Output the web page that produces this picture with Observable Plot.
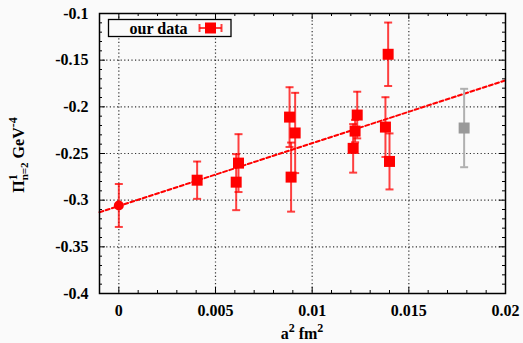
<!DOCTYPE html>
<html><head><meta charset="utf-8">
<script src="https://cdn.jsdelivr.net/npm/d3@7"></script>
<script src="https://cdn.jsdelivr.net/npm/@observablehq/plot@0.6"></script>
<style>body{margin:0;background:#fafafa;}</style>
</head><body><div id="chart"></div>
<script>
// Data
const a2   = [0.00405, 0.00607, 0.00619, 0.00883, 0.00891, 0.00912, 0.01212, 0.01222, 0.01233, 0.01379, 0.01393, 0.01400];
const piv  = [-0.2786, -0.2807, -0.2603, -0.2110, -0.2753, -0.2280, -0.2445, -0.2260, -0.2088, -0.2217, -0.1437, -0.2585];
const errs = [0.020, 0.030, 0.031, 0.032, 0.037, 0.043, 0.026, 0.012, 0.025, 0.032, 0.034, 0.030];
const contA2 = [0], contPi = [-0.3057], contErr = [0.023];
const grayA2 = [0.01786], grayPi = [-0.2227], grayErr = [0.042];
const fitA2 = [-0.001, 0.02], fitPi = [-0.313, -0.1716];
const xTicks = [0, 0.005, 0.01, 0.015, 0.02];
const yTicks = [-0.4, -0.35, -0.3, -0.25, -0.2, -0.15, -0.1];

const pts = a2.map((x, i) => ({x, y: piv[i], e: errs[i]}));
const cont = contA2.map((x, i) => ({x, y: contPi[i], e: contErr[i]}));
const gray = grayA2.map((x, i) => ({x, y: grayPi[i], e: grayErr[i]}));
const fit = fitA2.map((x, i) => ({x, y: fitPi[i]}));

const xMinor = d3.range(-1, 21).map(k => k / 1000).filter(v => !xTicks.some(t => Math.abs(t - v) < 1e-9));
const yMinor = d3.range(-40, -9).map(k => k / 100).filter(v => !yTicks.some(t => Math.abs(t - v) < 1e-9));
const xGrid = [0, 0.005, 0.01, 0.015];
const yGrid = [-0.35, -0.3, -0.25, -0.2, -0.15];

const capSym = {draw(ctx, size) { const r = Math.sqrt(size / Math.PI); ctx.moveTo(-r, 0); ctx.lineTo(r, 0); }};
const W = 523, H = 343, mL = 99, mR = 18, mT = 13, mB = 50;
const iw = W - mL - mR, ih = H - mT - mB;

function errMarks(data, color, op) {
  return [
    Plot.ruleX(data, {x: "x", y1: d => d.y - d.e, y2: d => d.y + d.e, stroke: color, strokeWidth: 2, strokeOpacity: op}),
    Plot.dot(data, {x: "x", y: d => d.y - d.e, symbol: capSym, r: 4, stroke: color, strokeWidth: 2, strokeOpacity: op}),
    Plot.dot(data, {x: "x", y: d => d.y + d.e, symbol: capSym, r: 4, stroke: color, strokeWidth: 2, strokeOpacity: op})
  ];
}

const tickStyle = {stroke: "black", strokeWidth: 1};
const svg = Plot.plot({
  width: W, height: H, marginLeft: mL, marginRight: mR, marginTop: mT, marginBottom: mB,
  style: {background: "#fafafa", fontFamily: "Liberation Serif", fontWeight: "bold", fontSize: "16px", color: "black"},
  x: {domain: [-0.001, 0.02]},
  y: {domain: [-0.4, -0.1]},
  marks: [
    Plot.ruleX(xGrid, {x: d => d, stroke: "#333", strokeDasharray: "1.2,2.4", strokeWidth: 1.2}),
    Plot.ruleY(yGrid, {y: d => d, stroke: "#333", strokeDasharray: "1.2,2.4", strokeWidth: 1.2}),
    Plot.tickX(xTicks, {x: d => d, insetTop: ih - 6, ...tickStyle}),
    Plot.tickX(xTicks, {x: d => d, insetBottom: ih - 6, ...tickStyle}),
    Plot.tickX(xMinor, {x: d => d, insetTop: ih - 3, ...tickStyle}),
    Plot.tickX(xMinor, {x: d => d, insetBottom: ih - 3, ...tickStyle}),
    Plot.tickY(yTicks, {y: d => d, insetRight: iw - 6, ...tickStyle}),
    Plot.tickY(yTicks, {y: d => d, insetLeft: iw - 6, ...tickStyle}),
    Plot.tickY(yMinor, {y: d => d, insetRight: iw - 3, ...tickStyle}),
    Plot.tickY(yMinor, {y: d => d, insetLeft: iw - 3, ...tickStyle}),
    Plot.line(fit, {x: "x", y: "y", stroke: "#ff0000", strokeWidth: 2, strokeDasharray: "4,2.5"}),
    ...errMarks(gray, "#b0b0b0", 1),
    ...errMarks(cont, "#ff0000", 0.75),
    ...errMarks(pts, "#ff0000", 0.75),
    Plot.dot(gray, {x: "x", y: "y", symbol: "square", r: 6.2, fill: "#999999"}),
    Plot.dot(cont, {x: "x", y: "y", symbol: "circle", r: 5, fill: "#ff0000"}),
    Plot.dot(pts, {x: "x", y: "y", symbol: "square", r: 6.2, fill: "#ff0000"}),
    Plot.frame({stroke: "black", strokeWidth: 1.5}),
    Plot.axisX(xTicks, {tickSize: 0, tickPadding: 11, tickFormat: d => String(d), label: null, fontSize: 16, fontWeight: "bold"}),
    Plot.axisY(yTicks, {tickSize: 0, tickPadding: 11, tickFormat: d => String(d), label: null, fontSize: 16, fontWeight: "bold"})
  ]
});
document.getElementById("chart").append(svg);

const s = d3.select(svg);
const font = "Liberation Serif";
// Legend
const lg = s.append("g");
lg.append("rect").attr("x", 108.5).attr("y", 19.5).attr("width", 122.5).attr("height", 17)
  .attr("fill", "#fafafa").attr("stroke", "black").attr("stroke-width", 1.3);
lg.append("text").attr("x", 158.5).attr("y", 33.5).attr("text-anchor", "middle")
  .attr("font-family", font).attr("font-weight", "bold").attr("font-size", 16).text("our data");
lg.append("line").attr("x1", 199.5).attr("x2", 221.5).attr("y1", 28).attr("y2", 28).attr("stroke", "#ff0000").attr("stroke-opacity", 0.75).attr("stroke-width", 2);
lg.append("line").attr("x1", 199.5).attr("x2", 199.5).attr("y1", 24).attr("y2", 32).attr("stroke", "#ff0000").attr("stroke-opacity", 0.75).attr("stroke-width", 2);
lg.append("line").attr("x1", 221.5).attr("x2", 221.5).attr("y1", 24).attr("y2", 32).attr("stroke", "#ff0000").attr("stroke-opacity", 0.75).attr("stroke-width", 2);
lg.append("rect").attr("x", 205).attr("y", 22.5).attr("width", 11).attr("height", 11).attr("fill", "#ff0000");

// X label
const xl = s.append("text").attr("x", mL + iw / 2).attr("y", 339).attr("text-anchor", "middle")
  .attr("font-family", font).attr("font-weight", "bold").attr("font-size", 16);
xl.append("tspan").text("a");
xl.append("tspan").attr("dy", -7).attr("font-size", 12).text("2");
xl.append("tspan").attr("dy", 7).text(" fm");
xl.append("tspan").attr("dy", -7).attr("font-size", 12).text("2");

// Y label
const yl = s.append("text").attr("transform", `translate(24,155) rotate(-90)`).attr("text-anchor", "middle")
  .attr("font-family", font).attr("font-weight", "bold").attr("font-size", 16);
yl.append("tspan").text("Π");
yl.append("tspan").attr("dy", -7).attr("font-size", 12).text("1");
yl.append("tspan").attr("dx", -6).attr("dy", 11).attr("font-size", 11).text("n=2");
yl.append("tspan").attr("dy", -4).text(" GeV");
yl.append("tspan").attr("dy", -7).attr("font-size", 12).text("-4");
</script></body></html>
